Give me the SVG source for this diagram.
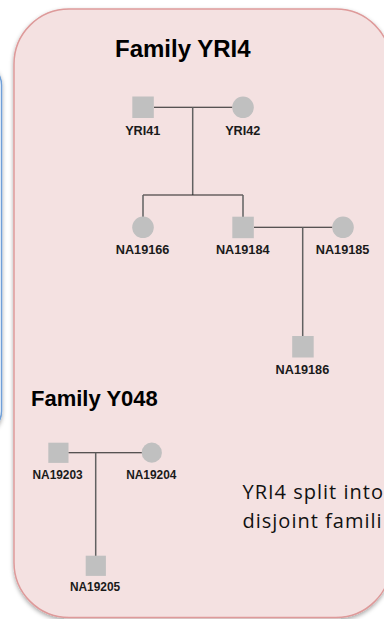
<svg xmlns="http://www.w3.org/2000/svg" width="384" height="619" viewBox="0 0 384 619">
  <defs>
    <filter id="shadow" x="-20%" y="-20%" width="140%" height="140%">
      <feDropShadow dx="0" dy="2" stdDeviation="2" flood-color="#000" flood-opacity="0.35"/>
    </filter>
    <style>
      .panel { fill: #f4e1e1; stroke: #de9a9a; stroke-width: 1.5; }
      .side { fill: #ffffff; stroke: #6f9fd8; stroke-width: 1.5; }
      .ind { fill: #c0c0c0; stroke: none; }
      .mate { stroke: #222222; stroke-width: 1.1; fill: none; }
      .desc { stroke: #616161; stroke-width: 1.5; fill: none; }
      .title { font-family: "Liberation Sans", Arial, sans-serif; font-weight: bold; fill: #000; }
      .lab { font-family: "Liberation Sans", Arial, sans-serif; font-weight: bold; fill: #1a1a1a; text-anchor: middle; }
      .lab1 { font-size: 12.7px; }
      .lab2 { font-size: 11.9px; }
      .note { font-family: "Open Sans", "Noto Sans", sans-serif; font-size: 20px; letter-spacing: 1px; fill: #111; }
    </style>
  </defs>

  <rect x="0" y="0" width="384" height="619" fill="#ffffff"/>

  <g id="side-panel">
    <rect class="side" x="-300" y="63" width="301.5" height="370" rx="22" filter="url(#shadow)"/>
  </g>

  <g id="panel">
    <rect class="panel" x="14" y="9" width="377" height="608.5" rx="55" filter="url(#shadow)"/>
  </g>

  <g id="titles">
    <text class="title" x="115" y="57" font-size="24">Family YRI4</text>
    <text class="title" x="31" y="405.5" font-size="22">Family Y048</text>
  </g>

  <g id="connectors">
    <line class="mate" x1="154" y1="107.3" x2="232.5" y2="107.3"/>
    <line class="desc" x1="192.7" y1="107.3" x2="192.7" y2="195"/>
    <line class="mate" x1="143" y1="195" x2="243" y2="195"/>
    <line class="desc" x1="143" y1="195" x2="143" y2="217"/>
    <line class="desc" x1="243" y1="195" x2="243" y2="217"/>
    <line class="mate" x1="254" y1="227.3" x2="332.5" y2="227.3"/>
    <line class="desc" x1="302.7" y1="227.3" x2="302.7" y2="336"/>
    <line class="mate" x1="68.3" y1="452.7" x2="142" y2="452.7"/>
    <line class="desc" x1="95.7" y1="452.7" x2="95.7" y2="556"/>
  </g>

  <g id="YRI41">
    <rect class="ind" x="132.3" y="96.5" width="21.5" height="21.5"/>
    <text class="lab lab1" x="142.8" y="135">YRI41</text>
  </g>
  <g id="YRI42">
    <circle class="ind" cx="243" cy="107.3" r="10.8"/>
    <text class="lab lab1" x="242.8" y="135">YRI42</text>
  </g>
  <g id="NA19166">
    <circle class="ind" cx="143" cy="227.3" r="10.8"/>
    <text class="lab lab1" x="142.6" y="254">NA19166</text>
  </g>
  <g id="NA19184">
    <rect class="ind" x="232.3" y="216.7" width="21.5" height="21.5"/>
    <text class="lab lab1" x="242.7" y="254">NA19184</text>
  </g>
  <g id="NA19185">
    <circle class="ind" cx="343" cy="227.3" r="10.8"/>
    <text class="lab lab1" x="342.6" y="254">NA19185</text>
  </g>
  <g id="NA19186">
    <rect class="ind" x="292.2" y="336" width="21.5" height="21.5"/>
    <text class="lab lab1" x="302.4" y="374.3">NA19186</text>
  </g>

  <g id="NA19203">
    <rect class="ind" x="48.3" y="442.7" width="20.2" height="20.2"/>
    <text class="lab lab2" x="57.6" y="479">NA19203</text>
  </g>
  <g id="NA19204">
    <circle class="ind" cx="151.8" cy="452.7" r="10.1"/>
    <text class="lab lab2" x="151.3" y="479">NA19204</text>
  </g>
  <g id="NA19205">
    <rect class="ind" x="85.7" y="555.7" width="20.2" height="20.2"/>
    <text class="lab lab2" x="95" y="591">NA19205</text>
  </g>

  <g id="note">
    <text class="note" x="242.5" y="499">YRI4 split into</text>
    <text class="note" x="242.5" y="527.5">disjoint famili</text>
  </g>
</svg>
